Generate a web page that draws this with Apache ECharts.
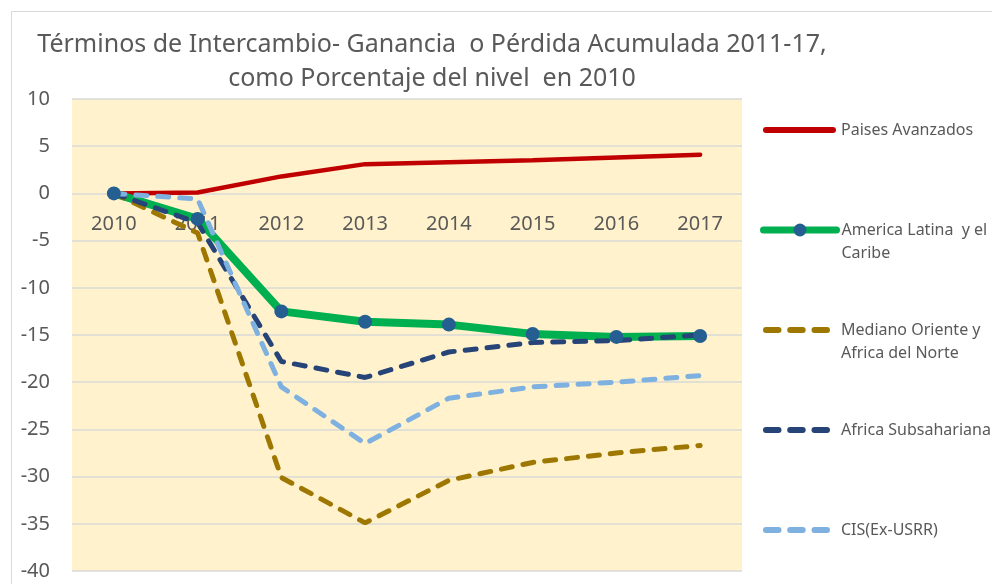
<!DOCTYPE html>
<html>
<head>
<meta charset="utf-8">
<script src="https://cdn.jsdelivr.net/npm/echarts@6/dist/echarts.min.js"></script>
<style>
    html, body { margin: 0; padding: 0; background: #fff; }
    #chart { width: 992px; height: 584px; }
</style>
</head>
<body>
<div id="chart"></div>
<script>
'use strict';

// Data
const years = ['2010', '2011', '2012', '2013', '2014', '2015', '2016', '2017'];
const avanzados = [0, 0.1, 1.8, 3.1, 3.3, 3.5, 3.8, 4.1];
const americaLatina = [0, -2.7, -12.5, -13.6, -13.9, -14.9, -15.2, -15.1];
const medianoOriente = [0, -4.2, -30.1, -34.9, -30.4, -28.5, -27.5, -26.7];
const africaSub = [0, -3.1, -17.8, -19.5, -16.8, -15.8, -15.6, -15.0];
const cis = [0, -0.6, -20.5, -26.5, -21.7, -20.5, -20.0, -19.3];
const yTicks = { min: -40, max: 10, step: 5 };

const FONT = 'Noto Sans, sans-serif';
const GREY = '#595959';
const CHART_H = 584;
const GRID = { left: 72, right: 250, top: 99, bottom: 13 };

// year labels sit just under the zero line, like in the picture
const plotH = CHART_H - GRID.top - GRID.bottom;
const zeroFromBottom = plotH * (0 - yTicks.min) / (yTicks.max - yTicks.min);

// legend icons: a solid bar, or three rounded dashes (tiny dot at x=73 keeps the box width)
const pad = 'M73,0h0.01v0.01h-0.01Z';
const solidIcon = 'path://M3,0H70A3,3 0 0 1 70,6H3A3,3 0 0 1 3,0Z' + pad;
const dashIcon = 'path://M3,0H15.5A3,3 0 0 1 15.5,6H3A3,3 0 0 1 3,0Z' +
    'M27.2,0H39.7A3,3 0 0 1 39.7,6H27.2A3,3 0 0 1 27.2,0Z' +
    'M51.5,0H64A3,3 0 0 1 64,6H51.5A3,3 0 0 1 51.5,0Z' + pad;

const dashed = (name, data, color) => ({
    name: name,
    type: 'line',
    data: data,
    symbol: 'none',
    lineStyle: { color: color, width: 5, type: [11, 11], cap: 'round' },
    itemStyle: { color: color }
});

// one legend per item so the spacing can follow the picture
const legendItem = (name, top, multiLine, icon) => {
    const item = {
        data: [name],
        orient: 'vertical',
        left: icon ? 758 : 755,
        top: top,
        itemWidth: 73,
        itemHeight: icon ? 6 : 16,
        selectedMode: false,
        textStyle: {
            fontFamily: FONT,
            fontSize: 16,
            color: GREY,
            lineHeight: 23
        }
    };
    // an empty first line keeps the icon level with the first text line
    if (multiLine) item.formatter = (n) => '\n' + n;
    if (icon) {
        item.icon = icon;
    } else {
        item.lineStyle = { width: 7, cap: 'round' };
    }
    return item;
};

const chart = echarts.init(document.getElementById('chart'));

chart.setOption({
    animation: false,
    backgroundColor: '#fff',
    title: {
        text: 'Términos de Intercambio- Ganancia  o Pérdida Acumulada 2011-17,\ncomo Porcentaje del nivel  en 2010',
        left: 427,
        top: 23,
        textAlign: 'center',
        textStyle: {
            fontFamily: FONT,
            fontSize: 25,
            fontWeight: 'normal',
            color: GREY,
            lineHeight: 34
        }
    },
    graphic: [{
        type: 'rect',
        shape: { x: 11.5, y: 11.5, width: 1000, height: 600 },
        style: { fill: 'none', stroke: '#D9D9D9', lineWidth: 1 },
        silent: true
    }],
    legend: [
        legendItem('Paises Avanzados', 113.5, false, solidIcon),
        legendItem('America Latina  y el\nCaribe', 190.5, true),
        legendItem('Mediano Oriente y\nAfrica del Norte', 290.5, true, dashIcon),
        legendItem('Africa Subsahariana', 413.5, false, dashIcon),
        legendItem('CIS(Ex-USRR)', 513.5, false, dashIcon)
    ],
    grid: {
        left: GRID.left,
        right: GRID.right,
        top: GRID.top,
        bottom: GRID.bottom,
        outerBoundsMode: 'none',
        show: true,
        backgroundColor: '#FFF2CC',
        borderWidth: 0
    },
    xAxis: {
        type: 'category',
        data: years,
        position: 'bottom',
        offset: -zeroFromBottom,
        axisLine: { show: false, onZero: false },
        axisTick: { show: false },
        axisLabel: { fontFamily: FONT, fontSize: 20, color: GREY, margin: 21 },
        z: 1
    },
    yAxis: {
        type: 'value',
        min: yTicks.min,
        max: yTicks.max,
        interval: yTicks.step,
        axisLine: { show: false },
        axisTick: { show: false },
        axisLabel: { fontFamily: FONT, fontSize: 20, color: GREY, margin: 22 },
        splitLine: { lineStyle: { color: '#D9D9D9', width: 1.5 } }
    },
    series: [
        {
            name: 'Paises Avanzados',
            type: 'line',
            data: avanzados,
            symbol: 'none',
            z: 3,
            lineStyle: { color: '#C00000', width: 4.5, cap: 'round' },
            itemStyle: { color: '#C00000' }
        },
        {
            name: 'America Latina  y el\nCaribe',
            type: 'line',
            data: americaLatina,
            symbol: 'circle',
            symbolSize: 14,
            z: 3,
            lineStyle: { color: '#00B050', width: 8, cap: 'round' },
            itemStyle: { color: '#255E91', borderWidth: 0 }
        },
        Object.assign(dashed('Mediano Oriente y\nAfrica del Norte', medianoOriente, '#9E7700'), { z: 3 }),
        Object.assign(dashed('Africa Subsahariana', africaSub, '#264478'), { z: 3 }),
        Object.assign(dashed('CIS(Ex-USRR)', cis, '#7EB0E0'), { z: 3 })
    ]
});
</script>
</body>
</html>
